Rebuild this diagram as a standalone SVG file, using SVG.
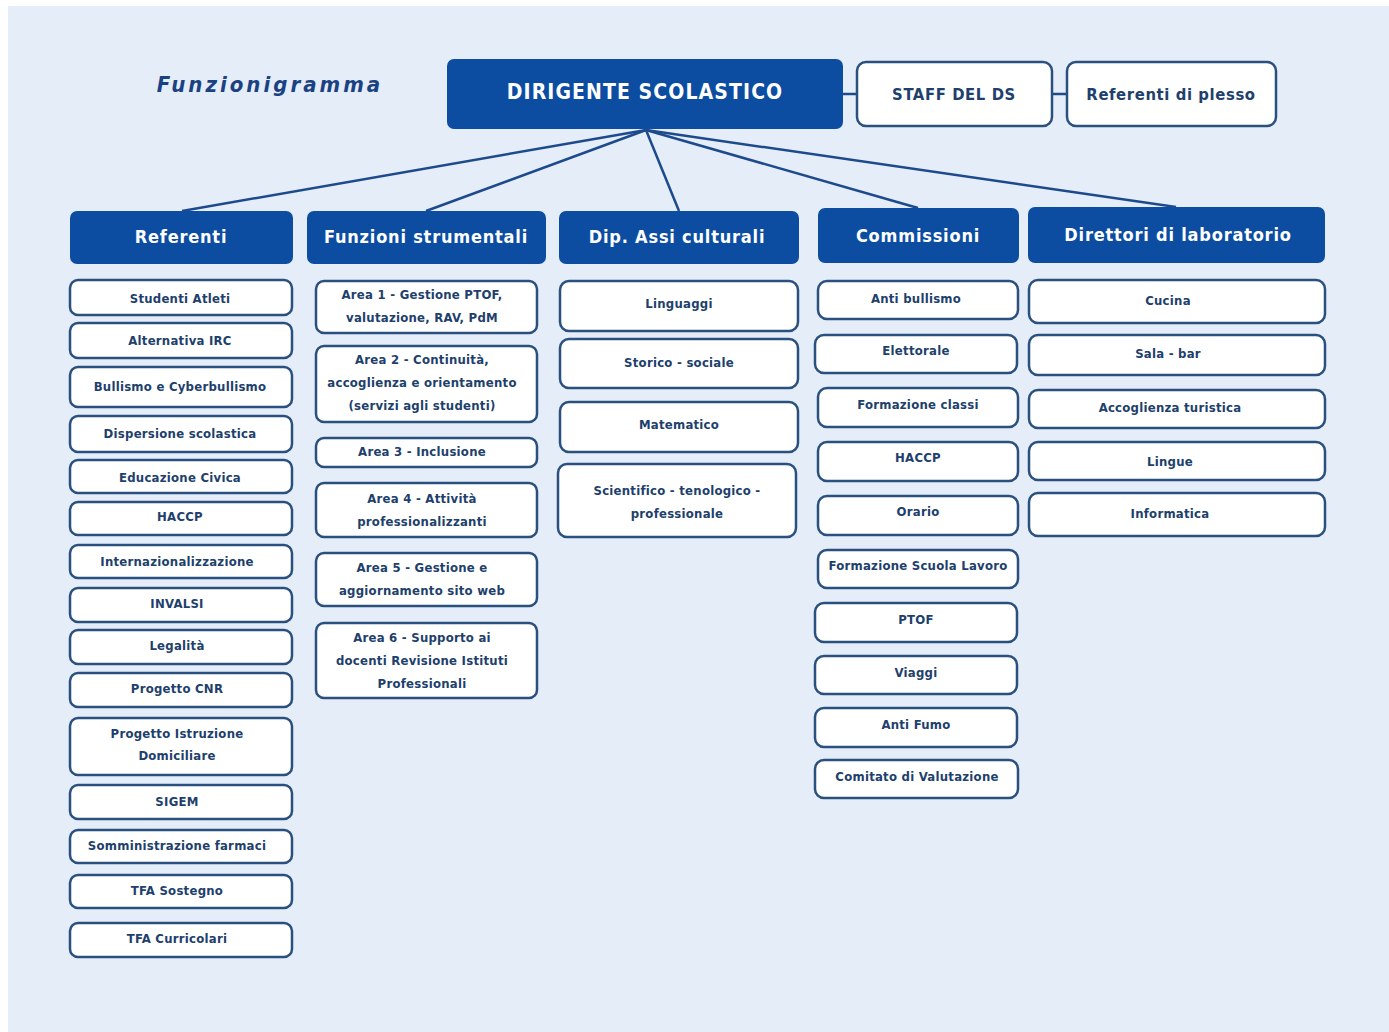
<svg xmlns="http://www.w3.org/2000/svg" width="1389" height="1032" viewBox="0 0 1389 1032">
<style>
.hdr{fill:#0c4da2;}
.box{fill:#ffffff;stroke:#29507f;stroke-width:2.5;}
.ht{font-family:"DejaVu Sans Condensed","DejaVu Sans",sans-serif;font-weight:bold;font-size:18px;fill:#ffffff;text-anchor:middle;dominant-baseline:central;letter-spacing:0.8px;}
.bt{font-family:"DejaVu Sans Condensed","DejaVu Sans",sans-serif;font-weight:bold;font-size:13px;fill:#213f6c;text-anchor:middle;dominant-baseline:central;letter-spacing:0.25px;}
.st{font-family:"DejaVu Sans Condensed","DejaVu Sans",sans-serif;font-weight:bold;font-size:16.5px;fill:#213f6c;text-anchor:middle;dominant-baseline:central;letter-spacing:0.6px;}
.ln{stroke:#1d4a8c;stroke-width:2.5;fill:none;}
</style>
<rect x="0" y="0" width="1389" height="1032" fill="#ffffff"/>
<rect x="8" y="6" width="1381" height="1026" fill="#e5edf8"/>
<text x="270" y="84" font-family="DejaVu Sans Condensed, DejaVu Sans, sans-serif" font-weight="bold" font-style="italic" font-size="22" fill="#1a4283" text-anchor="middle" dominant-baseline="central" letter-spacing="3">Funzionigramma</text>

<g id="connectors">
<line class="ln" x1="843" y1="94" x2="857" y2="94"/>
<line class="ln" x1="1052" y1="94" x2="1067" y2="94"/>
<line class="ln" x1="646" y1="130" x2="182" y2="211"/>
<line class="ln" x1="646" y1="130" x2="426" y2="211"/>
<line class="ln" x1="646" y1="130" x2="679" y2="211"/>
<line class="ln" x1="646" y1="130" x2="918" y2="208"/>
<line class="ln" x1="646" y1="130" x2="1176" y2="207"/>
</g>

<g id="dirigente"><rect class="hdr" x="447" y="59" width="396" height="70" rx="7"/><text class="ht" x="645" y="92" style="font-size:21px;letter-spacing:1.1px">DIRIGENTE SCOLASTICO</text></g>
<g id="staff"><rect class="box" x="857" y="62" width="195" height="64" rx="9"/><text class="st" x="954" y="94">STAFF DEL DS</text></g>
<g id="plesso"><rect class="box" x="1067" y="62" width="209" height="64" rx="9"/><text class="st" x="1171" y="94">Referenti di plesso</text></g>

<g id="h-referenti"><rect class="hdr" x="70" y="211" width="223" height="53" rx="7"/><text class="ht" x="181" y="236">Referenti</text></g>
<g id="h-funzioni"><rect class="hdr" x="307" y="211" width="239" height="53" rx="7"/><text class="ht" x="426" y="236">Funzioni strumentali</text></g>
<g id="h-dip"><rect class="hdr" x="559" y="211" width="240" height="53" rx="7"/><text class="ht" x="677" y="236">Dip. Assi culturali</text></g>
<g id="h-commissioni"><rect class="hdr" x="818" y="208" width="201" height="55" rx="7"/><text class="ht" x="918" y="235">Commissioni</text></g>
<g id="h-direttori"><rect class="hdr" x="1028" y="207" width="297" height="56" rx="7"/><text class="ht" x="1178" y="234">Direttori di laboratorio</text></g>

<!-- Referenti -->
<g id="r1"><rect class="box" x="70" y="280" width="222" height="35" rx="8"/><text class="bt" x="180" y="298">Studenti Atleti</text></g>
<g id="r2"><rect class="box" x="70" y="323" width="222" height="35" rx="8"/><text class="bt" x="180" y="340">Alternativa IRC</text></g>
<g id="r3"><rect class="box" x="70" y="367" width="222" height="40" rx="8"/><text class="bt" x="180" y="386">Bullismo e Cyberbullismo</text></g>
<g id="r4"><rect class="box" x="70" y="416" width="222" height="36" rx="8"/><text class="bt" x="180" y="433">Dispersione scolastica</text></g>
<g id="r5"><rect class="box" x="70" y="460" width="222" height="33" rx="8"/><text class="bt" x="180" y="477">Educazione Civica</text></g>
<g id="r6"><rect class="box" x="70" y="502" width="222" height="33" rx="8"/><text class="bt" x="180" y="516">HACCP</text></g>
<g id="r7"><rect class="box" x="70" y="545" width="222" height="33" rx="8"/><text class="bt" x="177" y="561">Internazionalizzazione</text></g>
<g id="r8"><rect class="box" x="70" y="588" width="222" height="34" rx="8"/><text class="bt" x="177" y="603">INVALSI</text></g>
<g id="r9"><rect class="box" x="70" y="630" width="222" height="34" rx="8"/><text class="bt" x="177" y="645">Legalità</text></g>
<g id="r10"><rect class="box" x="70" y="673" width="222" height="34" rx="8"/><text class="bt" x="177" y="688">Progetto CNR</text></g>
<g id="r11"><rect class="box" x="70" y="718" width="222" height="57" rx="8"/><text class="bt" x="177" y="733">Progetto Istruzione</text><text class="bt" x="177" y="755">Domiciliare</text></g>
<g id="r12"><rect class="box" x="70" y="785" width="222" height="34" rx="8"/><text class="bt" x="177" y="801">SIGEM</text></g>
<g id="r13"><rect class="box" x="70" y="830" width="222" height="33" rx="8"/><text class="bt" x="177" y="845">Somministrazione farmaci</text></g>
<g id="r14"><rect class="box" x="70" y="875" width="222" height="33" rx="8"/><text class="bt" x="177" y="890">TFA Sostegno</text></g>
<g id="r15"><rect class="box" x="70" y="923" width="222" height="34" rx="8"/><text class="bt" x="177" y="938">TFA Curricolari</text></g>

<!-- Funzioni strumentali -->
<g id="f1"><rect class="box" x="316" y="281" width="221" height="52" rx="8"/><text class="bt" x="422" y="294">Area 1 - Gestione PTOF,</text><text class="bt" x="422" y="317">valutazione, RAV, PdM</text></g>
<g id="f2"><rect class="box" x="316" y="346" width="221" height="76" rx="8"/><text class="bt" x="422" y="359">Area 2 - Continuità,</text><text class="bt" x="422" y="382">accoglienza e orientamento</text><text class="bt" x="422" y="405">(servizi agli studenti)</text></g>
<g id="f3"><rect class="box" x="316" y="438" width="221" height="29" rx="8"/><text class="bt" x="422" y="451">Area 3 - Inclusione</text></g>
<g id="f4"><rect class="box" x="316" y="483" width="221" height="54" rx="8"/><text class="bt" x="422" y="498">Area 4 - Attività</text><text class="bt" x="422" y="521">professionalizzanti</text></g>
<g id="f5"><rect class="box" x="316" y="553" width="221" height="53" rx="8"/><text class="bt" x="422" y="567">Area 5 - Gestione e</text><text class="bt" x="422" y="590">aggiornamento sito web</text></g>
<g id="f6"><rect class="box" x="316" y="623" width="221" height="75" rx="8"/><text class="bt" x="422" y="637">Area 6 - Supporto ai</text><text class="bt" x="422" y="660">docenti Revisione Istituti</text><text class="bt" x="422" y="683">Professionali</text></g>

<!-- Dip. Assi culturali -->
<g id="d1"><rect class="box" x="560" y="281" width="238" height="50" rx="9"/><text class="bt" x="679" y="303">Linguaggi</text></g>
<g id="d2"><rect class="box" x="560" y="339" width="238" height="49" rx="9"/><text class="bt" x="679" y="362">Storico - sociale</text></g>
<g id="d3"><rect class="box" x="560" y="402" width="238" height="50" rx="9"/><text class="bt" x="679" y="424">Matematico</text></g>
<g id="d4"><rect class="box" x="558" y="464" width="238" height="73" rx="9"/><text class="bt" x="677" y="490">Scientifico - tenologico -</text><text class="bt" x="677" y="513">professionale</text></g>

<!-- Commissioni -->
<g id="c1"><rect class="box" x="818" y="281" width="200" height="38" rx="9"/><text class="bt" x="916" y="298">Anti bullismo</text></g>
<g id="c2"><rect class="box" x="815" y="335" width="202" height="38" rx="9"/><text class="bt" x="916" y="350">Elettorale</text></g>
<g id="c3"><rect class="box" x="818" y="388" width="200" height="39" rx="9"/><text class="bt" x="918" y="404">Formazione classi</text></g>
<g id="c4"><rect class="box" x="818" y="442" width="200" height="39" rx="9"/><text class="bt" x="918" y="457">HACCP</text></g>
<g id="c5"><rect class="box" x="818" y="496" width="200" height="39" rx="9"/><text class="bt" x="918" y="511">Orario</text></g>
<g id="c6"><rect class="box" x="818" y="550" width="200" height="38" rx="9"/><text class="bt" x="918" y="565">Formazione Scuola Lavoro</text></g>
<g id="c7"><rect class="box" x="815" y="603" width="202" height="39" rx="9"/><text class="bt" x="916" y="619">PTOF</text></g>
<g id="c8"><rect class="box" x="815" y="656" width="202" height="38" rx="9"/><text class="bt" x="916" y="672">Viaggi</text></g>
<g id="c9"><rect class="box" x="815" y="708" width="202" height="39" rx="9"/><text class="bt" x="916" y="724">Anti Fumo</text></g>
<g id="c10"><rect class="box" x="815" y="760" width="203" height="38" rx="9"/><text class="bt" x="917" y="776">Comitato di Valutazione</text></g>

<!-- Direttori di laboratorio -->
<g id="l1"><rect class="box" x="1029" y="280" width="296" height="43" rx="9"/><text class="bt" x="1168" y="300">Cucina</text></g>
<g id="l2"><rect class="box" x="1029" y="335" width="296" height="40" rx="9"/><text class="bt" x="1168" y="353">Sala - bar</text></g>
<g id="l3"><rect class="box" x="1029" y="390" width="296" height="38" rx="9"/><text class="bt" x="1170" y="407">Accoglienza turistica</text></g>
<g id="l4"><rect class="box" x="1029" y="442" width="296" height="38" rx="9"/><text class="bt" x="1170" y="461">Lingue</text></g>
<g id="l5"><rect class="box" x="1029" y="493" width="296" height="43" rx="9"/><text class="bt" x="1170" y="513">Informatica</text></g>
</svg>
